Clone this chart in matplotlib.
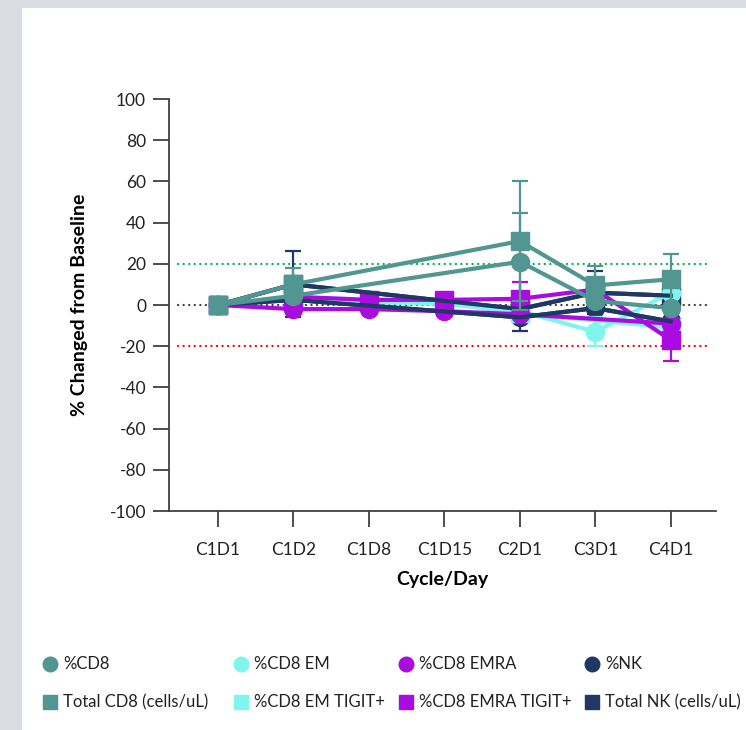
import numpy as np
import matplotlib
matplotlib.use('Agg')
import matplotlib.pyplot as plt
from matplotlib.patches import Rectangle

plt.rcParams['font.family'] = ['Lato', 'DejaVu Sans']
plt.rcParams['axes.unicode_minus'] = False

nan = np.nan
VISITS = ['C1D1', 'C1D2', 'C1D8', 'C1D15', 'C2D1', 'C3D1', 'C4D1']
YTICKS = list(range(-100, 101, 20))

# % change from baseline per visit (nan = not collected)
pct_cd8 = [0, 4.5, nan, nan, 21, 2, -1.5]
pct_cd8_err = [nan, nan, nan, nan, 23.5, nan, nan]
total_cd8 = [0, 10, nan, nan, 31, 9.5, 12.5]
total_cd8_err = [nan, 8, nan, nan, 29, 9.5, 12.5]

pct_em = [0, 3, 1.5, 0.5, -3, -13, 6]
pct_em_err = [nan, nan, nan, nan, nan, 7, nan]
pct_em_tigit = [0, 4, 2, 1, -4, nan, -11]
pct_em_tigit_err = [nan] * 7

pct_emra = [0, -2, -2, -3, -4.5, nan, -9]
pct_emra_err = [nan] * 7
pct_emra_tigit = [0, 4, 2.5, 2.5, 3, 7.5, -17]
pct_emra_tigit_err = [nan, nan, nan, nan, 8, nan, 10]

pct_nk = [0, 2.5, nan, nan, -6, -1.5, -8]
pct_nk_err = [nan, nan, nan, nan, 6.5, nan, nan]
total_nk = [0, 10, nan, nan, -2, 6, 4.5]
total_nk_err = [nan, 16, nan, nan, nan, 10.5, nan]

TEAL = '#519690'
CYAN = '#80F5EE'
PURPLE = '#A90BE0'
NAVY = '#1F3864'
AXIS = '#404040'
FRAME = '#DADDE3'

# (label, values, errors, colour, marker, zorder of markers, zorder of line)
series = [
    ('Total NK (cells/uL)', total_nk, total_nk_err, NAVY, 's', 2.6, 3.6),
    ('%NK', pct_nk, pct_nk_err, NAVY, 'o', 2.7, 3.65),
    ('%CD8 EM TIGIT+', pct_em_tigit, pct_em_tigit_err, CYAN, 's', 3.0, 3.0),
    ('%CD8 EM', pct_em, pct_em_err, CYAN, 'o', 3.1, 3.1),
    ('%CD8 EMRA TIGIT+', pct_emra_tigit, pct_emra_tigit_err, PURPLE, 's', 3.2, 3.2),
    ('%CD8 EMRA', pct_emra, pct_emra_err, PURPLE, 'o', 3.3, 3.3),
    ('Total CD8 (cells/uL)', total_cd8, total_cd8_err, TEAL, 's', 4.0, 4.0),
    ('%CD8', pct_cd8, pct_cd8_err, TEAL, 'o', 4.1, 4.1),
]

fig = plt.figure(figsize=(7.46, 7.30), dpi=100)
fig.patch.set_facecolor('white')
# grey window frame on the left and top
fig.patches.append(Rectangle((0, 0), 22 / 746, 1, transform=fig.transFigure,
                             facecolor=FRAME, edgecolor='none'))
fig.patches.append(Rectangle((0, 1 - 8 / 730), 1, 8 / 730, transform=fig.transFigure,
                             facecolor=FRAME, edgecolor='none'))

ax = fig.add_axes([169 / 746, 219 / 730, 547 / 746, 412 / 730])
ax.set_facecolor('none')

x = np.arange(len(VISITS))
for label, vals, err, color, marker, zm, zl in series:
    y = np.array(vals, float)
    e = np.array(err, float)
    m = ~np.isnan(y)
    ax.errorbar(x[m], y[m], yerr=e[m], color=color, lw=3, marker=marker, ms=13,
                mec=color, mfc=color, ecolor=color, elinewidth=1.6, capsize=6,
                capthick=1.6, zorder=zm)
    if zl != zm:
        ax.plot(x[m], y[m], color=color, lw=3, zorder=zl)

for yv, c in [(20, '#00B050'), (0, '#404040'), (-20, '#FF0000')]:
    ax.axhline(yv, xmin=0.016, xmax=0.989, color=c, lw=1.6, ls=(0, (0.1, 2.4)),
               dash_capstyle='round', zorder=2)

ax.set_xlim(-0.65, 6.6)
ax.set_ylim(-100, 100)
ax.set_xticks(x)
ax.set_xticklabels(VISITS)
ax.set_yticks(YTICKS)
for s in ['top', 'right']:
    ax.spines[s].set_visible(False)
for s in ['left', 'bottom']:
    ax.spines[s].set_color(AXIS)
    ax.spines[s].set_linewidth(1.3)
ax.tick_params(direction='out', length=11.5, width=1.3, color=AXIS,
               labelsize=12.5, labelcolor='#222222')
ax.tick_params(axis='x', pad=11)
ax.tick_params(axis='y', pad=5)

ax.set_ylabel('% Changed from Baseline', fontsize=14, fontweight='bold')
ax.yaxis.set_label_coords(-0.148, 0.5)
ax.set_xlabel('Cycle/Day', fontsize=14, fontweight='bold')
ax.xaxis.set_label_coords(0.5, -0.145)

# legend laid out in pixel coords
lax = fig.add_axes([0, 0, 1, 1])
lax.set_xlim(0, 746)
lax.set_ylim(730, 0)
lax.axis('off')
col_x = [50, 241, 406, 592]
row_y = [664, 702]
legend_order = [
    ['%CD8', '%CD8 EM', '%CD8 EMRA', '%NK'],
    ['Total CD8 (cells/uL)', '%CD8 EM TIGIT+', '%CD8 EMRA TIGIT+', 'Total NK (cells/uL)'],
]
lookup = {s[0]: s for s in series}
for r, row in enumerate(legend_order):
    for c, name in enumerate(row):
        color, marker = lookup[name][3], lookup[name][4]
        lax.plot(col_x[c], row_y[r], marker=marker, ms=10.5, color=color, ls='none')
        lax.text(col_x[c] + 13, row_y[r], name, fontsize=12, va='center', ha='left',
                 color='#222222')

fig.savefig('out.png', dpi=100, facecolor=fig.get_facecolor())
